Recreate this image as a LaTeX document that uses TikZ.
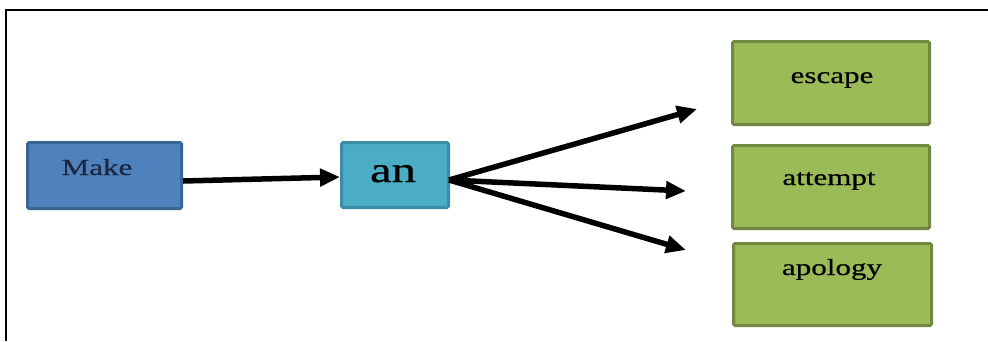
\documentclass[tikz,border=0pt]{standalone}
\usepackage{fontspec}
\setmainfont{Liberation Serif}
\newfontfamily\wide[FakeStretch=1.35,FakeBold=0.6]{Liberation Serif}
\usetikzlibrary{arrows.meta}

\definecolor{makefill}{HTML}{4F81BD}
\definecolor{makeedge}{HTML}{3A6593}
\definecolor{anfill}{HTML}{4BACC6}
\definecolor{anedge}{HTML}{3A8DA4}
\definecolor{wordfill}{HTML}{9BBB59}
\definecolor{wordedge}{HTML}{71893F}
\definecolor{navytext}{HTML}{1B2743}

\tikzset{
  box/.style={draw, line width=3pt, rounded corners=1.5pt, inner sep=0pt},
  makebox/.style={box, fill=makefill, draw=makeedge},
  anbox/.style={box, fill=anfill, draw=anedge},
  wordbox/.style={box, fill=wordfill, draw=wordedge, minimum width=197pt, minimum height=83pt},
  word/.style={anchor=base, inner sep=0pt, font=\wide\fontsize{23}{27}\selectfont},
  link/.style={line width=5.5pt, -{Triangle[length=20pt,width=17pt]}},
}

\begin{document}
\begin{tikzpicture}[x=1pt, y=-1pt]
  \useasboundingbox (0,0) rectangle (988,341);

  % page frame (top and left rules)
  \draw[line width=2pt] (6,341) -- (6,10) -- (988,10);

  % boxes
  \node[makebox, minimum width=154pt, minimum height=66pt] (make) at (104.5,175.5) {};
  \node[anbox, minimum width=107pt, minimum height=65pt] (an) at (395,175) {};
  \node[wordbox] (escape) at (831,83) {};
  \node[wordbox] (attempt) at (831,187) {};
  \node[wordbox, minimum width=198pt, minimum height=82pt] (apology) at (832.5,284.5) {};

  % labels
  \node[word, text=navytext] (maketxt) at (97,175) {Make};
  \node[word, font=\wide\fontsize{36}{40}\selectfont] (antxt) at (393,182) {an};
  \node[word] (escapetxt) at (832,83) {escape};
  \node[word] (attempttxt) at (829,185) {attempt};
  \node[word] (apologytxt) at (832,275) {apology};

  % arrow ends
  \coordinate (fan) at (449,180);
  \coordinate (tip1) at (697,109);
  \coordinate (tip2) at (686,191);
  \coordinate (tip3) at (686,250);

  % connectors
  \draw[link] (make.east |- 0,181) -- (an.west |- 0,177);
  \draw[link] (fan) -- (tip1);
  \draw[link] (fan) -- (tip2);
  \draw[link] (fan) -- (tip3);
\end{tikzpicture}
\end{document}
